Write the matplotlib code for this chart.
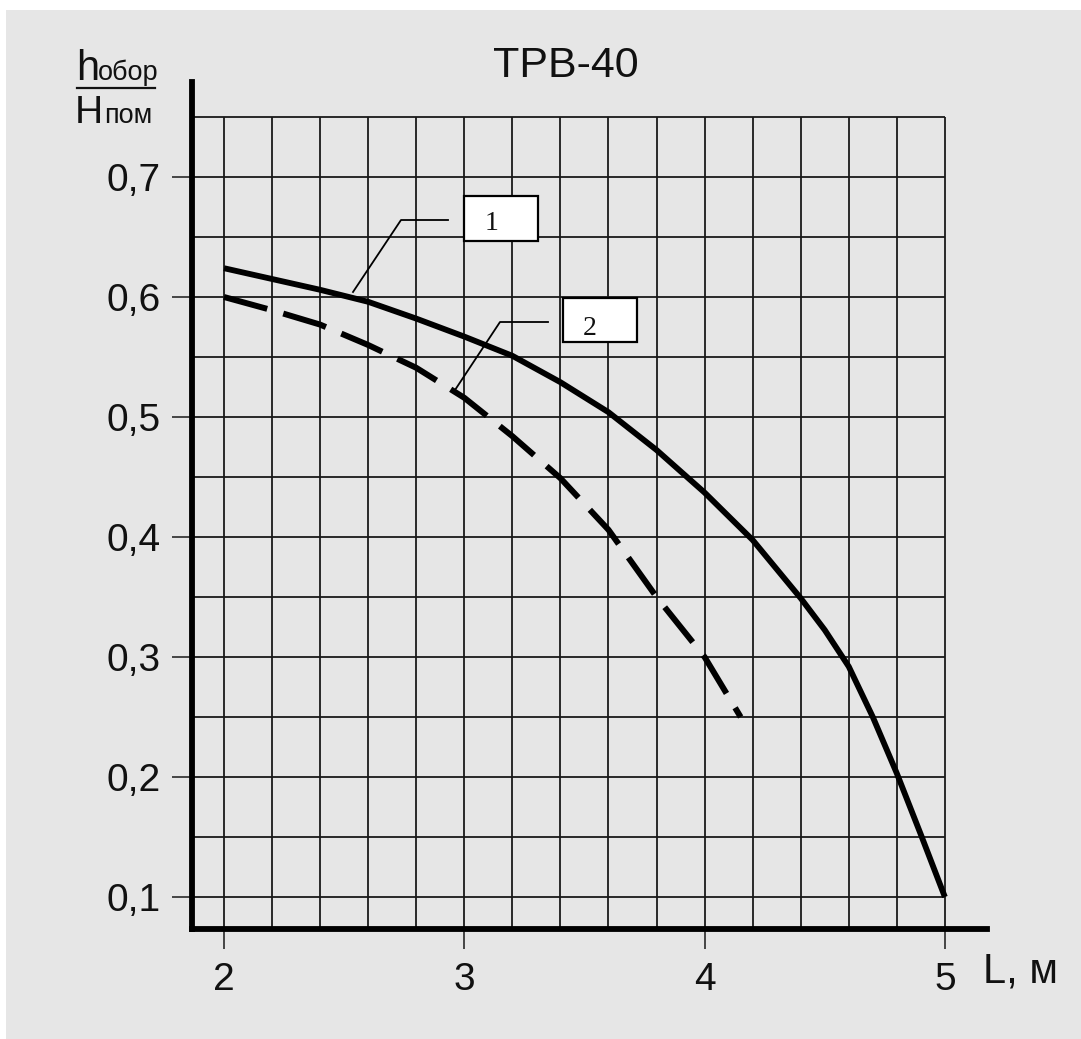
import matplotlib
matplotlib.use("Agg")
import matplotlib.pyplot as plt
from matplotlib.patches import Rectangle
import numpy as np

plt.rcParams['font.family'] = ['Liberation Sans', 'DejaVu Sans']

# ---- data ----
L1 = [2.0, 2.2, 2.4, 2.6, 2.8, 3.0, 3.2, 3.4, 3.6, 3.8, 4.0, 4.2, 4.4, 4.5, 4.6, 4.7, 4.8, 4.9, 5.0]
h1 = [0.624, 0.615, 0.606, 0.596, 0.582, 0.567, 0.551, 0.529, 0.504, 0.4725, 0.437, 0.3975,
      0.349, 0.3225, 0.292, 0.25, 0.203, 0.152, 0.10]
L2 = [2.0, 2.2, 2.4, 2.6, 2.8, 3.0, 3.2, 3.4, 3.6, 3.8, 4.0, 4.15]
h2 = [0.600, 0.589, 0.577, 0.560, 0.541, 0.516, 0.484, 0.449, 0.406, 0.350, 0.300, 0.250]
xticks = [2, 3, 4, 5]
xticklabels = ['2', '3', '4', '5']
yticks = [0.1, 0.2, 0.3, 0.4, 0.5, 0.6, 0.7]
yticklabels = ['0,1', '0,2', '0,3', '0,4', '0,5', '0,6', '0,7']
title = 'ТРВ-40'
xlabel = 'L, м'
curve_labels = ['1', '2']

W, H = 1081, 1039
fig = plt.figure(figsize=(W / 100, H / 100), dpi=100, facecolor='white')

def fx(px):
    return px / W

def fy(py):
    return 1 - py / H

# gray background
fig.patches.append(Rectangle((fx(6), 0), 1 - fx(6), fy(10), transform=fig.transFigure,
                             facecolor='#e6e6e6', edgecolor='none', zorder=-10))

left, right, bottom, top = 192, 987, 929, 82
ax = fig.add_axes([fx(left), fy(bottom), fx(right) - fx(left), fy(top) - fy(bottom)])
ax.patch.set_alpha(0)

xmin = 2 - (224 - left) / 240.3
xmax = 2 + (right - 224) / 240.3
ymin = 0.1 - (bottom - 897) / 1200
ymax = 0.7 + (177 - top) / 1200
ax.set_xlim(xmin, xmax)
ax.set_ylim(ymin, ymax)

# grid
gx = np.round(np.arange(2.0, 5.0001, 0.2), 3)
gy = np.round(np.arange(0.10, 0.7501, 0.05), 3)
ax.vlines(gx, ymin, 0.75, colors='#1a1a1a', linewidth=1.3, zorder=1)
ax.hlines(gy, xmin, 5.0, colors='#1a1a1a', linewidth=1.3, zorder=1)

# spines
for s in ['top', 'right']:
    ax.spines[s].set_visible(False)
for s in ['left', 'bottom']:
    ax.spines[s].set_linewidth(4.2)
    ax.spines[s].set_color('black')
    ax.spines[s].set_capstyle('projecting')

ax.set_xticks(xticks)
ax.set_xticklabels(xticklabels)
ax.set_yticks(yticks)
ax.set_yticklabels(yticklabels)
ax.tick_params(axis='both', direction='out', length=14.4, width=1.1, color='#1a1a1a',
               labelsize=28, labelcolor='#111111')
ax.tick_params(axis='x', pad=9)
ax.tick_params(axis='y', pad=8)

# curves
ax.plot(L1, h1, color='black', linewidth=4.2, solid_capstyle='butt', solid_joinstyle='round', zorder=4)
ax.plot(L2, h2, color='black', linewidth=4.3, dashes=(7.5, 2.8), dash_capstyle='butt', zorder=4)

# callouts
def dx(px):
    return 2 + (px - 224) / 240.3

def dy(py):
    return 0.7 - (py - 177) / 1200

ax.plot([dx(448), dx(401), dx(353)], [dy(220), dy(220), dy(292)], color='black', lw=1.3, zorder=3)
ax.plot([dx(548), dx(500), dx(455)], [dy(322), dy(322), dy(390)], color='black', lw=1.3, zorder=3)

b1 = Rectangle((dx(464), dy(241)), dx(538) - dx(464), dy(196) - dy(241), facecolor='white',
               edgecolor='black', lw=1.6, zorder=5)
b2 = Rectangle((dx(563), dy(342)), dx(637) - dx(563), dy(298) - dy(342), facecolor='white',
               edgecolor='black', lw=1.6, zorder=5)
ax.add_patch(b1)
ax.add_patch(b2)
ax.text(dx(492), dy(223), curve_labels[0], fontsize=20, family=['Liberation Serif'],
        ha='center', va='center', zorder=6, color='#111111')
t2 = ax.text(dx(590), dy(328), curve_labels[1], fontsize=20, family=['Liberation Serif'],
             ha='center', va='center', zorder=6, color='#111111')
clip = Rectangle((dx(563), dy(333)), dx(637) - dx(563), dy(298) - dy(333), transform=ax.transData)
t2.set_clip_path(clip)

# title and axis labels
fig.text(fx(566), fy(66), title, fontsize=31, ha='center', va='center', color='#111111')
fig.text(fx(983), fy(982), xlabel, fontsize=30, ha='left', va='baseline', color='#111111')

fig.text(fx(76), fy(80), 'h', fontsize=30, ha='left', va='baseline', color='#111111')
fig.text(fx(98), fy(80), 'обор', fontsize=19.5, ha='left', va='baseline', color='#111111')
fig.lines.append(plt.Line2D([fx(77), fx(155)], [fy(88), fy(88)], transform=fig.transFigure,
                            color='#111111', lw=1.6))
fig.text(fx(75), fy(123), 'H', fontsize=28, ha='left', va='baseline', color='#111111')
fig.text(fx(104), fy(123), 'пом', fontsize=19.5, ha='left', va='baseline', color='#111111')

fig.savefig('out.png', dpi=100, facecolor=fig.get_facecolor())
